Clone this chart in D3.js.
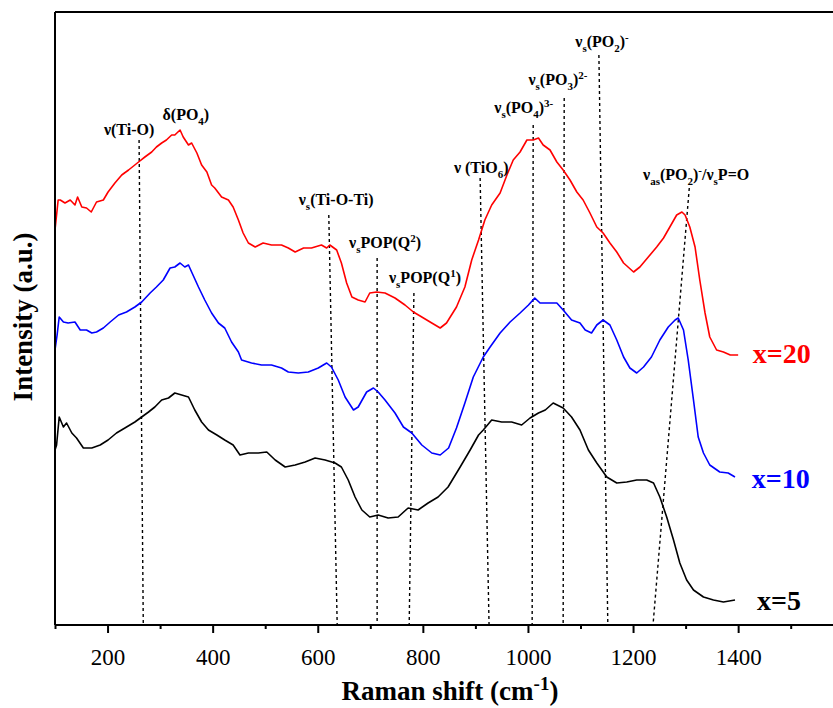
<!DOCTYPE html>
<html><head><meta charset="utf-8">
<script src="https://cdn.jsdelivr.net/npm/d3@7"></script>
<style>
body{margin:0;background:#fff;}
svg{display:block;font-family:"Liberation Serif","Times New Roman",serif;}
</style></head>
<body><div id="chart"></div>
<script>
// ---- data (Raman shift in cm-1, intensity in arbitrary units) ----
const wnX20 = [100,106,110,119,129,138,143,151,160,169,179,192,201,214,227,240,259,271,284,293,303,312,322,328,338,344,354,360,370,379,389,398,404,417,430,439,449,458,468,481,496,512,531,544,557,573,588,607,617,623,636,645,655,665,677,690,699,712,728,747,766,782,798,817,833,845,864,880,893,906,918,931,947,960,972,985,998,1010,1020,1029,1042,1055,1067,1080,1093,1105,1118,1131,1143,1156,1169,1182,1201,1213,1229,1245,1258,1270,1283,1293,1299,1308,1318,1327,1337,1346,1359,1372,1385,1400];
const intX20 = [395,425,425,422,425,420,428,418,417,413,423,425,433,442,450,455,463,468,473,478,482,485,490,490,495,488,480,482,472,460,453,440,437,428,425,418,405,392,382,378,382,380,380,377,373,377,377,380,377,380,375,362,342,328,325,323,332,333,332,327,320,313,308,302,297,302,318,338,365,385,405,420,432,450,465,473,485,485,487,480,475,463,455,445,433,425,412,398,392,382,373,362,353,358,368,378,387,398,410,413,410,398,378,345,312,288,275,273,270,270];

const wnX10 = [100,104,108,116,125,138,148,160,170,179,192,205,221,236,252,265,281,293,306,319,328,338,347,354,360,373,385,398,411,423,436,449,455,474,493,512,531,544,563,582,601,617,626,639,652,668,677,693,706,715,728,747,763,779,798,817,833,849,864,880,896,915,928,947,966,985,1001,1013,1023,1039,1055,1067,1083,1099,1109,1121,1131,1143,1156,1169,1182,1194,1207,1220,1235,1251,1267,1280,1286,1296,1305,1315,1324,1334,1346,1365,1381,1394];
const intX10 = [275,290,308,303,302,303,295,295,292,293,297,303,310,313,318,323,332,338,345,357,358,362,358,360,353,338,325,312,302,297,283,273,265,262,260,260,257,253,252,253,257,262,258,245,228,215,218,233,237,233,225,212,198,192,180,172,170,177,197,222,248,268,278,292,303,312,320,327,322,322,322,315,305,302,295,292,300,305,300,285,268,257,252,258,268,285,298,305,307,295,265,225,188,172,160,153,152,148];

const wnX5 = [100,103,108,116,122,132,141,154,170,186,201,217,233,252,265,278,290,303,316,328,341,354,366,379,392,408,423,439,452,468,487,503,519,538,557,576,595,614,633,645,658,671,684,699,715,734,753,772,791,810,829,848,871,890,906,915,931,950,969,988,1004,1020,1033,1048,1067,1083,1099,1115,1131,1150,1169,1188,1207,1226,1239,1251,1264,1277,1289,1302,1315,1334,1353,1372,1394];
const intX5 = [175,180,208,198,202,192,187,177,177,180,185,192,197,203,208,213,218,225,227,232,230,228,215,203,195,190,185,180,170,172,172,173,165,158,160,163,167,165,162,158,145,128,115,108,110,107,108,117,115,122,128,138,158,175,190,195,205,203,203,200,207,212,215,222,217,208,195,175,162,148,142,143,145,145,142,128,108,85,62,45,35,28,25,23,25];

const seriesNames = ["x=20","x=10","x=5"];
const seriesColors = ["#ff0000","#0000ff","#000000"];

const majorTicks = [200,400,600,800,1000,1200,1400];
const minorTicks = [100,300,500,700,900,1100,1300,1500];

// annotation labels and dashed guide lines
const annLabels = ["ν(Ti-O)","δ(PO4)","νs(Ti-O-Ti)","νsPOP(Q2)","νsPOP(Q1)","ν (TiO6)","νs(PO4)3-","νs(PO3)2-","νs(PO2)-","νas(PO2)-/νsP=O"];
const annLabelWn  = [241,349,635,728,804,911,992,1057,1141,1320];
const annLabelInt = [490,505,420,377,342,452,512,540,578,445];
const annTopWn    = [260,null,621,713,783,909,1010,1069,1135,1307];
const annTopInt   = [485,null,410,367,332,447,500,527,570,437];
const annBotWn    = [268,null,637,713,774,926,1008,1067,1152,1238];

// ---- chart ----
const W = 833, H = 708;
const svg = d3.select("#chart").append("svg").attr("width",W).attr("height",H);
const x = d3.scaleLinear().domain([100,1600]).range([55, 55+1500*0.5255]);
const y = d3.scaleLinear().domain([0,613]).range([625,12]);

// dashed guide lines
annLabels.forEach((l,i)=>{
  if(annTopWn[i]==null) return;
  svg.append("line")
    .attr("x1",x(annTopWn[i])).attr("y1",y(annTopInt[i]))
    .attr("x2",x(annBotWn[i])).attr("y2",y(0))
    .attr("stroke","#000").attr("stroke-width",1.4).attr("stroke-dasharray","3,3");
});

// spectra
const line = d3.line().x(d=>x(d[0])).y(d=>y(d[1]));
const allSeries = [[wnX20,intX20],[wnX10,intX10],[wnX5,intX5]];
allSeries.forEach((s,i)=>{
  svg.append("path").datum(s[0].map((w,j)=>[w,s[1][j]]))
    .attr("d",line).attr("fill","none")
    .attr("stroke",seriesColors[i]).attr("stroke-width",1.6).attr("stroke-linejoin","round");
});

// frame
svg.append("line").attr("x1",55).attr("x2",W).attr("y1",12).attr("y2",12).attr("stroke","#000").attr("stroke-width",2);
svg.append("line").attr("x1",55).attr("x2",55).attr("y1",12).attr("y2",625).attr("stroke","#000").attr("stroke-width",2);

// x axis
const gMinor = svg.append("g").attr("transform","translate(0,625)")
  .call(d3.axisBottom(x).tickValues(minorTicks).tickSize(4).tickFormat(""));
const gMajor = svg.append("g").attr("transform","translate(0,625)")
  .call(d3.axisBottom(x).tickValues(majorTicks).tickSize(8).tickPadding(16).tickFormat(d3.format("d")));
[gMinor,gMajor].forEach(g=>{
  g.select(".domain").attr("stroke-width",2).attr("d","M55,0H"+W);
  g.selectAll(".tick line").attr("stroke-width",2);
});
gMajor.selectAll(".tick text").attr("font-size",23).attr("font-family","Liberation Serif").attr("fill","#000").attr("dy","0.71em");

// axis titles
const xt = svg.append("text").attr("x",450).attr("y",700).attr("text-anchor","middle")
  .attr("font-size",27).attr("font-weight","bold");
xt.append("tspan").text("Raman shift (cm");
xt.append("tspan").attr("dy",-10).attr("font-size",19).text("-1");
xt.append("tspan").attr("dy",10).text(")");

svg.append("text").attr("transform","translate(32,317) rotate(-90)").attr("text-anchor","middle")
  .attr("font-size",27).attr("font-weight","bold").text("Intensity (a.u.)");

// series labels
const seriesLabelWn = [1428,1426,1436];
const seriesLabelInt = [262,137,15];
seriesNames.forEach((n,i)=>{
  svg.append("text").attr("x",x(seriesLabelWn[i])).attr("y",y(seriesLabelInt[i]))
    .attr("font-size",28).attr("font-weight","bold").attr("fill",seriesColors[i]).text(n);
});

// annotation text with sub/superscripts
const richMap = {
  "ν(Ti-O)":[["ν(Ti-O)",0]],
  "δ(PO4)":[["δ(PO",0],["4",-1],[")",0]],
  "νs(Ti-O-Ti)":[["ν",0],["s",-1],["(Ti-O-Ti)",0]],
  "νsPOP(Q2)":[["ν",0],["s",-1],["POP(Q",0],["2",1],[")",0]],
  "νsPOP(Q1)":[["ν",0],["s",-1],["POP(Q",0],["1",1],[")",0]],
  "ν (TiO6)":[["ν (TiO",0],["6",-1],[")",0]],
  "νs(PO4)3-":[["ν",0],["s",-1],["(PO",0],["4",-1],[")",0],["3-",1]],
  "νs(PO3)2-":[["ν",0],["s",-1],["(PO",0],["3",-1],[")",0],["2-",1]],
  "νs(PO2)-":[["ν",0],["s",-1],["(PO",0],["2",-1],[")",0],["-",1]],
  "νas(PO2)-/νsP=O":[["ν",0],["as",-1],["(PO",0],["2",-1],[")",0],["-",1],["/ν",0],["s",-1],["P=O",0]]
};
function richText(t, str){
  let cur = 0;
  richMap[str].forEach(([s,lvl])=>{
    const target = lvl===-1?5:(lvl===1?-6:0);
    t.append("tspan").attr("dy",target-cur).attr("font-size",lvl===0?16:11).text(s);
    cur = target;
  });
}
annLabels.forEach((l,i)=>{
  const t = svg.append("text").attr("x",x(annLabelWn[i])).attr("y",y(annLabelInt[i]))
    .attr("text-anchor","middle").attr("font-weight","bold").attr("font-size",16);
  richText(t,l);
});
</script></body></html>
